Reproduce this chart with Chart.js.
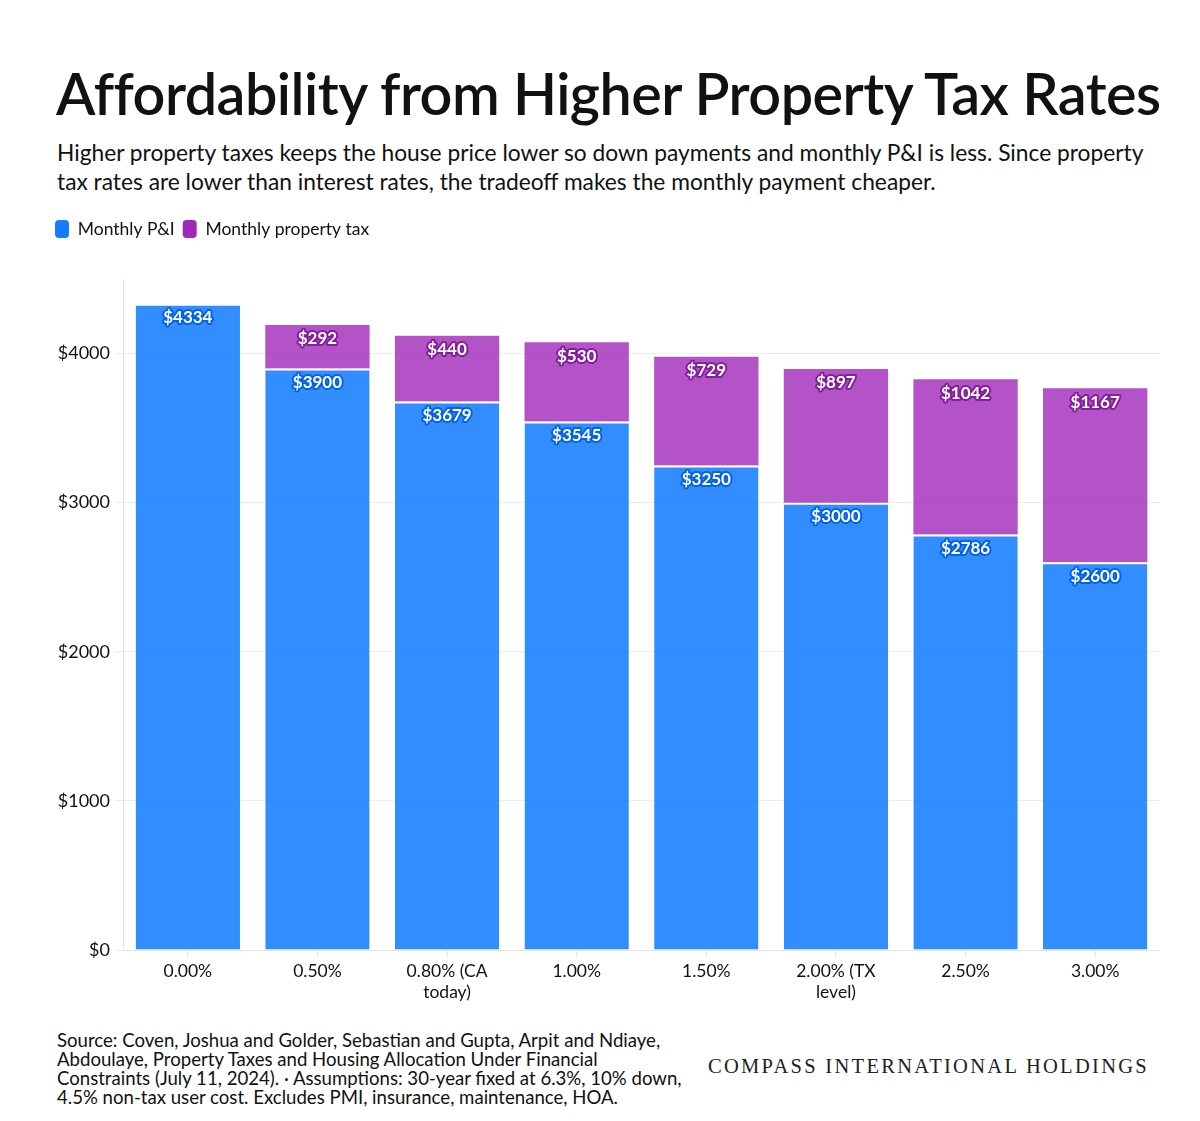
<!DOCTYPE html>
<html>
<head>
<meta charset="utf-8">
<script src="https://cdn.jsdelivr.net/npm/chart.js@4.4.1/dist/chart.umd.min.js"></script>
<style>
	html, body { margin: 0; padding: 0; background: #fff; }
	body { width: 1200px; height: 1121px; position: relative; overflow: hidden; font-family: "Lato", sans-serif; color: #111; }
	#title { position: absolute; left: 56px; top: 58px; font-size: 57.5px; font-weight: 600; letter-spacing: -0.52px; white-space: nowrap; }
	#subtitle { position: absolute; left: 57px; top: 138px; font-size: 22.75px; line-height: 29px; white-space: nowrap; }
	#wrap { position: absolute; left: 47px; top: 212px; width: 1113px; height: 798px; }
	#source { position: absolute; left: 57px; top: 1031px; font-size: 18.6px; line-height: 19px; white-space: nowrap; }
	#brand { position: absolute; left: 708px; top: 1055px; font-family: "Liberation Serif", serif; font-size: 20.5px; letter-spacing: 2.3px; color: #222; white-space: nowrap; }
</style>
</head>
<body>
<div id="title">Affordability from Higher Property Tax Rates</div>
<div id="subtitle">Higher property taxes keeps the house price lower so down payments and monthly P&amp;I is less. Since property<br>tax rates are lower than interest rates, the tradeoff makes the monthly payment cheaper.</div>
<div id="wrap"><canvas id="chart-tax-rates"></canvas></div>
<div id="source">Source: Coven, Joshua and Golder, Sebastian and Gupta, Arpit and Ndiaye,<br>Abdoulaye, Property Taxes and Housing Allocation Under Financial<br>Constraints (July 11, 2024). · Assumptions: 30-year fixed at 6.3%, 10% down,<br>4.5% non-tax user cost. Excludes PMI, insurance, maintenance, HOA.</div>
<div id="brand">COMPASS INTERNATIONAL HOLDINGS</div>

<script>
// Chart data
const TAX_RATES = ["0.00%", "0.50%", ["0.80% (CA", "today)"], "1.00%", "1.50%", ["2.00% (TX", "level)"], "2.50%", "3.00%"];
const MONTHLY_PI = [4334, 3900, 3679, 3545, 3250, 3000, 2786, 2600];
const MONTHLY_TAX = [0, 292, 440, 530, 729, 897, 1042, 1167];
const Y_TICKS = [0, 1000, 2000, 3000, 4000];

const COLORS = {
	blue: "20, 125, 255",
	purple: "160, 40, 185",
	blueGlow: "0, 95, 225",
	purpleGlow: "125, 25, 150",
};

const FONT = "Lato";

// Value labels drawn inside the top of each segment
const segmentLabels = {
	id: "segmentLabels",
	afterDatasetsDraw(chart) {
		const { ctx } = chart;
		ctx.save();
		ctx.font = `bold 17px ${FONT}`;
		ctx.textAlign = "center";
		ctx.textBaseline = "middle";
		ctx.lineJoin = "round";
		chart.data.datasets.forEach((ds, i) => {
			const meta = chart.getDatasetMeta(i);
			meta.data.forEach((bar, j) => {
				const v = ds.data[j];
				if (!v) return;
				const text = "$" + v;
				const y = bar.y + 14;
				ctx.strokeStyle = `rgba(${ds.glow}, 0.9)`;
				ctx.lineWidth = 4;
				ctx.strokeText(text, bar.x, y);
				ctx.fillStyle = "#fff";
				ctx.fillText(text, bar.x, y);
			});
		});
		ctx.restore();
	},
};

// Extra room between legend and plot
const legendGap = {
	id: "legendGap",
	beforeInit(chart) {
		const fit = chart.legend.fit;
		chart.legend.fit = function () {
			fit.bind(chart.legend)();
			this.height += 31;
		};
	},
};

const CHART_DATA = {
	labels: TAX_RATES,
	datasets: [
		{
			label: "Monthly P&I",
			data: MONTHLY_PI,
			backgroundColor: `rgba(${COLORS.blue}, 0.87)`,
			legendColor: `rgb(${COLORS.blue})`,
			glow: COLORS.blueGlow,
			borderColor: "#fff",
			borderWidth: { top: 2, left: 0, right: 0, bottom: 0 },
			borderSkipped: false,
		},
		{
			label: "Monthly property tax",
			data: MONTHLY_TAX,
			backgroundColor: `rgba(${COLORS.purple}, 0.8)`,
			legendColor: `rgb(${COLORS.purple})`,
			glow: COLORS.purpleGlow,
			borderWidth: 0,
		},
	],
};

const CHART_CONFIG = {
	type: "bar",
	data: CHART_DATA,
	plugins: [segmentLabels, legendGap],
	options: {
		responsive: true,
		maintainAspectRatio: false,
		animation: false,
		datasets: {
			bar: {
				categoryPercentage: 1,
				barPercentage: 0.805,
			},
		},
		scales: {
			x: {
				stacked: true,
				border: { display: true, color: "#e4e4e4" },
				grid: {
					display: true,
					offset: false,
					drawOnChartArea: false,
					drawTicks: true,
					tickLength: 7,
					color: "#e4e4e4",
				},
				ticks: {
					color: "#111",
					font: { family: FONT, size: 17.5 },
					padding: 4,
					maxRotation: 0,
				},
				afterFit: (scale) => {
					scale.height = 60;
				},
			},
			y: {
				stacked: true,
				min: 0,
				max: 4500,
				border: { display: true, color: "#e4e4e4" },
				grid: {
					color: "#ececec",
					tickLength: 8,
				},
				afterBuildTicks: (scale) => {
					scale.ticks = Y_TICKS.map((v) => ({ value: v }));
				},
				ticks: {
					color: "#111",
					font: { family: FONT, size: 18 },
					padding: 5,
					callback: (v) => "$" + v,
				},
				afterFit: (scale) => {
					scale.width = 76;
				},
			},
		},
		plugins: {
			legend: {
				display: true,
				position: "top",
				align: "start",
				labels: {
					boxWidth: 14,
					boxHeight: 18,
					useBorderRadius: true,
					borderRadius: 4,
					padding: 8,
					color: "#111",
					font: { family: FONT, size: 17.5 },
					generateLabels: (chart) =>
						chart.data.datasets.map((ds, i) => ({
							text: ds.label,
							fillStyle: ds.legendColor,
							strokeStyle: ds.legendColor,
							lineWidth: 0,
							borderRadius: 4,
							fontColor: "#111",
							datasetIndex: i,
						})),
				},
			},
			tooltip: { enabled: false },
		},
	},
};

const CHART_WRAPPER = document.getElementById("chart-tax-rates");
if (CHART_WRAPPER) {
	new Chart(CHART_WRAPPER, CHART_CONFIG);
}
</script>
</body>
</html>
